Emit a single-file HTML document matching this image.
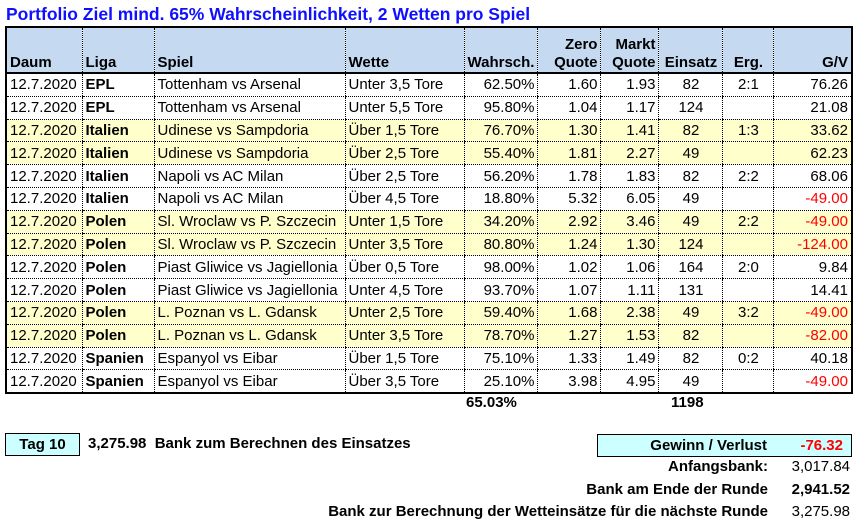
<!DOCTYPE html>
<html><head><meta charset="utf-8"><style>
body{margin:0;width:861px;height:528px;background:#fff;font-family:"Liberation Sans",Arial,sans-serif;font-size:15px;color:#000;position:relative;overflow:hidden}
.title{position:absolute;left:6px;top:4px;font-size:17.5px;font-weight:bold;color:#1010ff}
table{position:absolute;left:5px;top:26px;border-collapse:collapse;table-layout:fixed;border:2px solid #000}
td,th{height:21.8px;padding:0 3px;white-space:nowrap;overflow:hidden;border-left:1px dotted #000;border-bottom:1px dotted #000;line-height:21px}
th{background:#c5d9f1;font-weight:bold;vertical-align:bottom;line-height:18px;height:44px;border-bottom:2px solid #000}
tr.y td{background:#ffffcc}
.r{text-align:right}.c{text-align:center}.b{font-weight:bold}.red{color:#ff0000}
.abs{position:absolute;white-space:nowrap}
</style></head><body>
<div class="title">Portfolio Ziel mind. 65% Wahrscheinlichkeit, 2 Wetten pro Spiel</div>
<table>
<colgroup><col style="width:76px"><col style="width:72px"><col style="width:191px"><col style="width:119px"><col style="width:73px"><col style="width:63px"><col style="width:58px"><col style="width:64px"><col style="width:51px"><col style="width:78px"></colgroup>
<tr><th style="text-align:left">Daum</th><th style="text-align:left">Liga</th><th style="text-align:left">Spiel</th><th style="text-align:left">Wette</th><th class="r">Wahrsch.</th><th class="r">Zero<br>Quote</th><th class="r">Markt<br>Quote</th><th class="c">Einsatz</th><th class="c">Erg.</th><th class="r">G/V</th></tr>
<tbody id="tb"></tbody>
</table>
<script>
const rows=[
["EPL","Tottenham vs Arsenal","Unter 3,5 Tore","62.50%","1.60","1.93","82","2:1","76.26",0],
["EPL","Tottenham vs Arsenal","Unter 5,5 Tore","95.80%","1.04","1.17","124","","21.08",0],
["Italien","Udinese vs Sampdoria","Über 1,5 Tore","76.70%","1.30","1.41","82","1:3","33.62",1],
["Italien","Udinese vs Sampdoria","Über 2,5 Tore","55.40%","1.81","2.27","49","","62.23",1],
["Italien","Napoli vs AC Milan","Über 2,5 Tore","56.20%","1.78","1.83","82","2:2","68.06",0],
["Italien","Napoli vs AC Milan","Über 4,5 Tore","18.80%","5.32","6.05","49","","-49.00",0],
["Polen","Sl. Wroclaw vs P. Szczecin","Unter 1,5 Tore","34.20%","2.92","3.46","49","2:2","-49.00",1],
["Polen","Sl. Wroclaw vs P. Szczecin","Unter 3,5 Tore","80.80%","1.24","1.30","124","","-124.00",1],
["Polen","Piast Gliwice vs Jagiellonia","Über 0,5 Tore","98.00%","1.02","1.06","164","2:0","9.84",0],
["Polen","Piast Gliwice vs Jagiellonia","Unter 4,5 Tore","93.70%","1.07","1.11","131","","14.41",0],
["Polen","L. Poznan vs L. Gdansk","Unter 2,5 Tore","59.40%","1.68","2.38","49","3:2","-49.00",1],
["Polen","L. Poznan vs L. Gdansk","Unter 3,5 Tore","78.70%","1.27","1.53","82","","-82.00",1],
["Spanien","Espanyol vs Eibar","Über 1,5 Tore","75.10%","1.33","1.49","82","0:2","40.18",0],
["Spanien","Espanyol vs Eibar","Über 3,5 Tore","25.10%","3.98","4.95","49","","-49.00",0]];
const tb=document.getElementById('tb');
rows.forEach((r,i)=>{
const tr=document.createElement('tr');


if(r[9])tr.className='y';
const neg=r[8].startsWith('-');
tr.innerHTML=`<td>12.7.2020</td><td class="b">${r[0]}</td><td>${r[1]}</td><td>${r[2]}</td><td class="r">${r[3]}</td><td class="r">${r[4]}</td><td class="r">${r[5]}</td><td class="c">${r[6]}</td><td class="c">${r[7]}</td><td class="r${neg?' red':''}">${r[8]}</td>`;
tb.appendChild(tr);
});
</script>
<div class="abs b" style="left:466px;top:394px">65.03%</div>
<div class="abs b" style="left:671px;top:394px">1198</div>
<div class="abs b" style="left:5px;top:433px;width:73px;height:21px;border:1px solid #000;background:#ccffff;text-align:center;line-height:21px">Tag 10</div>
<div class="abs b" style="left:88px;top:435px">3,275.98&nbsp; Bank zum Berechnen des Einsatzes</div>
<div class="abs b" style="left:597px;top:434px;width:253px;height:21px;border:1px solid #000;background:#ccffff;line-height:21px"><span style="position:absolute;right:84px">Gewinn / Verlust</span><span class="red" style="position:absolute;right:8px">-76.32</span></div>
<div class="abs b" style="right:93px;top:458px">Anfangsbank:</div>
<div class="abs" style="right:11px;top:458px">3,017.84</div>
<div class="abs b" style="right:93px;top:481px">Bank am Ende der Runde</div>
<div class="abs b" style="right:11px;top:481px">2,941.52</div>
<div class="abs b" style="right:93px;top:503px">Bank zur Berechnung der Wetteinsätze für die nächste Runde</div>
<div class="abs" style="right:11px;top:503px">3,275.98</div>
</body></html>
